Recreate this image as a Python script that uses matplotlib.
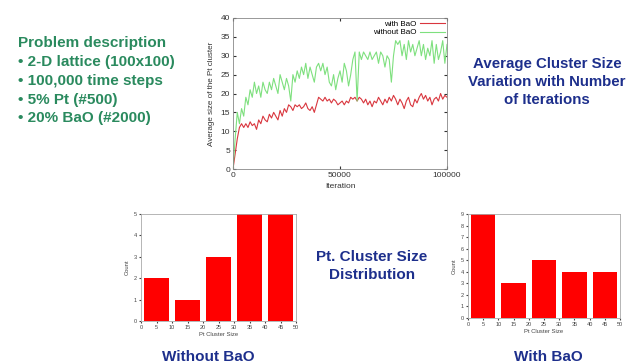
import matplotlib
matplotlib.use("Agg")
import matplotlib.pyplot as plt
import numpy as np

plt.rcParams['font.family'] = ['Liberation Sans', 'DejaVu Sans']

iterations = np.arange(0, 101) * 1000
without_bao = [0, 8, 15, 12, 16, 14, 19, 17, 21, 19,
               23, 20, 22, 19, 23, 21, 20, 23, 21, 24,
               22, 20, 25, 23, 21, 24, 22, 18, 25, 23,
               26, 24, 27, 25, 28, 24, 27, 25, 23, 27,
               28, 26, 28, 25, 27, 23, 22, 25, 21, 24,
               26, 23, 28, 26, 22, 25, 29, 31, 18, 31,
               29, 31, 30, 29, 31, 29, 30, 31, 28, 31,
               30, 27, 30, 29, 23, 30, 34, 33, 34, 30,
               33, 29, 34, 31, 33, 30, 32, 34, 30, 33,
               29, 32, 30, 34, 28, 33, 29, 31, 34, 28, 33]
with_bao = [0, 4, 8, 11, 12, 11, 12, 11, 12.5, 11.5,
            12, 10.5, 13, 12, 14, 13, 12.5, 14.5, 13.5, 15,
            14, 13, 15.5, 14, 16, 15, 17, 16.5, 15.5, 17,
            16.5, 17, 16, 16.5, 17.5, 16, 15.5, 16.5, 15, 17,
            19, 18.5, 18, 19, 18, 18.5, 17.5, 18.5, 18, 17,
            17.5, 18, 17, 18, 17.5, 19, 18.5, 19, 18, 19,
            18.5, 17.5, 18.5, 17, 18, 16.5, 18, 17.5, 19, 18,
            17, 18.5, 17.5, 19, 18, 19.5, 18.5, 17, 18.5, 17.5,
            16, 18, 19, 17, 16.5, 18.5, 17.5, 19, 20, 18.5,
            19.5, 18, 19, 17, 18.5, 19, 18, 20, 18.5, 19.5, 19]

bin_centers = [5, 15, 25, 35, 45]
counts_without = [2, 1, 3, 5, 5]
counts_with = [9, 3, 5, 4, 4]

W, H = 632, 364
fig = plt.figure(figsize=(W / 100, H / 100), dpi=100)
fig.patch.set_facecolor('white')

def ax_rect(x0, y0, x1, y1):
    return [x0 / W, 1 - y1 / H, (x1 - x0) / W, (y1 - y0) / H]

# Top line chart
ax = fig.add_axes(ax_rect(233, 18, 447, 169))
ax.plot(iterations, with_bao, color='#d9363e', lw=0.8, label='with BaO')
ax.plot(iterations, without_bao, color='#7ee07e', lw=0.8, label='without BaO')
ax.set_xlim(0, 100000)
ax.set_ylim(0, 40)
ax.set_xticks([0, 50000, 100000])
ax.set_xticklabels(['0', '50000', '100000'])
ax.set_yticks(range(0, 41, 5))
ax.tick_params(labelsize=6, length=2, direction='in', colors='#333333', pad=2,
               top=True, right=True)
ax.set_xlabel('Iteration', fontsize=6, color='#333333', labelpad=3)
ax.set_ylabel('Average size of the Pt cluster', fontsize=5.8, color='#333333', labelpad=4)
for s in ax.spines.values():
    s.set_color('#888888')
    s.set_linewidth(0.6)
leg = ax.legend(loc='upper right', fontsize=5.8, frameon=False, markerfirst=False,
                handlelength=3, borderpad=0.1, labelspacing=0.1, handletextpad=0.5,
                borderaxespad=0.2)

def hist_ax(rect, counts, ymax):
    a = fig.add_axes(rect)
    a.bar(bin_centers, counts, width=8, color='#ff0000', edgecolor='none')
    a.set_xlim(0, 50)
    a.set_ylim(0, ymax)
    a.set_xticks(range(0, 51, 5))
    a.set_yticks(range(0, ymax + 1))
    a.tick_params(labelsize=4, length=1.5, colors='#444444', pad=1.5)
    a.set_xlabel('Pt Cluster Size', fontsize=4.2, color='#444444', labelpad=1.5)
    a.set_ylabel('Count', fontsize=4.2, color='#444444', labelpad=3)
    for s in a.spines.values():
        s.set_color('#aaaaaa')
        s.set_linewidth(0.6)
    return a

hist_ax(ax_rect(141, 214, 296, 321), counts_without, 5)
hist_ax(ax_rect(468, 214, 620, 318), counts_with, 9)

green = '#2a8a5e'
blue = '#1d2f8c'
lines = ['Problem description', '\u2022 2-D lattice (100x100)', '\u2022 100,000 time steps',
         '\u2022 5% Pt (#500)', '\u2022 20% BaO (#2000)']
ys = [43, 62, 81, 100, 118]
for t, y in zip(lines, ys):
    fig.text(18 / W, 1 - y / H, t, fontsize=11, fontweight='bold', color=green,
             ha='left', va='center')

fig.text(547 / W, 1 - 82 / H, 'Average Cluster Size\nVariation with Number\nof Iterations',
         fontsize=10.8, fontweight='bold', color=blue, ha='center', va='center',
         linespacing=1.4)
fig.text(372 / W, 1 - 266 / H, 'Pt. Cluster Size\nDistribution', fontsize=11,
         fontweight='bold', color=blue, ha='center', va='center', linespacing=1.35)
fig.text(208 / W, 1 - 357 / H, 'Without BaO', fontsize=11, fontweight='bold',
         color=blue, ha='center', va='center')
fig.text(548 / W, 1 - 357 / H, 'With BaO', fontsize=11, fontweight='bold',
         color=blue, ha='center', va='center')

fig.savefig('out.png', dpi=100)
